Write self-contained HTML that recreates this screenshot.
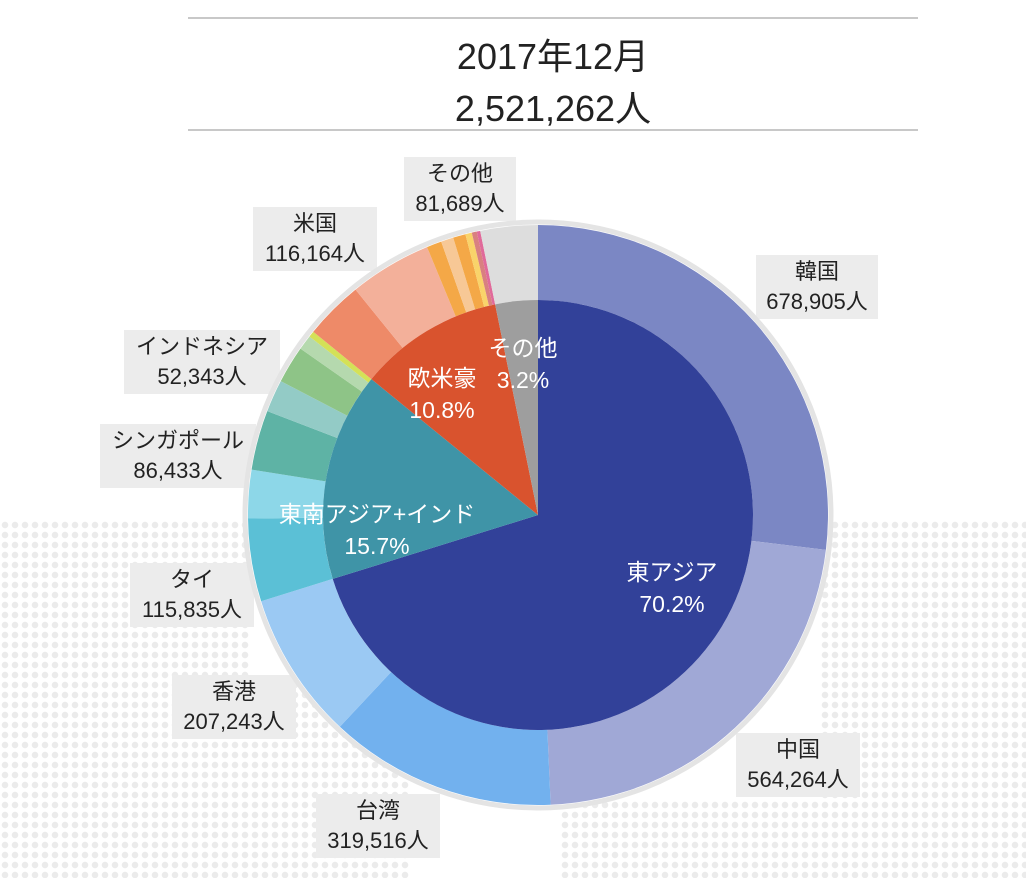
<!DOCTYPE html>
<html><head><meta charset="utf-8"><style>
body{margin:0;width:1026px;height:878px;background:#fff;position:relative;overflow:hidden;font-family:"Liberation Sans","Noto Sans CJK JP",sans-serif;}
.map{position:absolute;background-image:radial-gradient(circle,#e2e2e2 3px,transparent 3.5px);background-size:10px 10px;}
.hr{position:absolute;left:188px;width:730px;height:2px;background:#c8c8c8;}
.t{position:absolute;left:188px;width:730px;text-align:center;font-size:36px;color:#222;}
.lb{position:absolute;background:#ececec;color:#222;font-size:22px;line-height:30px;text-align:center;padding:2px 4px;}
.in{position:absolute;color:#fff;font-size:23px;line-height:32px;text-align:center;}
</style></head><body>
<div class="map" style="left:0;top:520px;width:250px;height:358px;opacity:.7"></div>
<div class="map" style="left:250px;top:680px;width:160px;height:198px;opacity:.7"></div>
<div class="map" style="left:820px;top:520px;width:206px;height:358px;opacity:.7"></div>
<div class="map" style="left:560px;top:800px;width:260px;height:78px;opacity:.7"></div>
<div class="hr" style="top:17px"></div>
<div class="hr" style="top:129px"></div>
<div class="t" style="top:28px">2017年12月</div>
<div class="t" style="top:80px">2,521,262人</div>
<div class="lb" style="left:404px;top:157px;width:104px">その他<br>81,689人</div>
<div class="lb" style="left:253px;top:207px;width:116px">米国<br>116,164人</div>
<div class="lb" style="left:756px;top:255px;width:114px">韓国<br>678,905人</div>
<div class="lb" style="left:124px;top:330px;width:148px">インドネシア<br>52,343人</div>
<div class="lb" style="left:100px;top:424px;width:148px">シンガポール<br>86,433人</div>
<div class="lb" style="left:130px;top:563px;width:116px">タイ<br>115,835人</div>
<div class="lb" style="left:172px;top:675px;width:116px">香港<br>207,243人</div>
<div class="lb" style="left:736px;top:733px;width:116px">中国<br>564,264人</div>
<div class="lb" style="left:316px;top:794px;width:116px">台湾<br>319,516人</div>
<svg id="s" width="1026" height="878" style="position:absolute;left:0;top:0"></svg>
<div class="in" style="left:592px;top:556px;width:160px">東アジア<br>70.2%</div>
<div class="in" style="left:262px;top:498px;width:230px">東南アジア+インド<br>15.7%</div>
<div class="in" style="left:392px;top:362px;width:100px">欧米豪<br>10.8%</div>
<div class="in" style="left:478px;top:332px;width:90px">その他<br>3.2%</div>
<script>
var cx=538,cy=515,R=290,r=215,s=document.getElementById('s'),h='';
function p(a,b,rr,r0,c){function pt(d,q){var t=(d-90)*Math.PI/180;return [cx+q*Math.cos(t),cy+q*Math.sin(t)];}
var l=(b-a)>180?1:0,A=pt(a,rr),B=pt(b,rr);
if(r0==0)h+='<path d="M'+cx+' '+cy+'L'+A+'A'+rr+' '+rr+' 0 '+l+' 1 '+B+'Z" fill="'+c+'"/>';
else{var C=pt(b,r0),D=pt(a,r0);h+='<path d="M'+A+'A'+rr+' '+rr+' 0 '+l+' 1 '+B+'L'+C+'A'+r0+' '+r0+' 0 '+l+' 0 '+D+'Z" fill="'+c+'"/>';}}
h+='<circle cx="'+cx+'" cy="'+cy+'" r="'+(R+3)+'" fill="#fff" stroke="#e4e4e4" stroke-width="5"/>';
var o=[[0,96.9,'#7b87c4'],[96.9,177.5,'#a0a8d6'],[177.5,223.1,'#72b1ee'],[223.1,252.7,'#9bc9f3'],[252.7,269.3,'#5bc0d6'],[269.3,279,'#8dd7e8'],[279,291,'#5eb3a5'],[291,297.5,'#93cbc6'],[297.5,305,'#8ec487'],[305,308,'#b5d9ae'],[308,309.2,'#d4e157'],[309.2,321,'#ee8a68'],[321,337.5,'#f3b09a'],[337.5,340.5,'#f4a847'],[340.5,343,'#f7c896'],[343,345.5,'#f4a847'],[345.5,346.8,'#f9d36a'],[346.8,347.8,'#d98080'],[347.8,348.5,'#e06a9a'],[348.5,360,'#dddddd']];
o.forEach(function(x){p(x[0],x[1],R,r,x[2]);});
[[0,252.7,'#324199'],[252.7,309.2,'#3f94a7'],[309.2,348.5,'#d9532e'],[348.5,360,'#9e9e9e']].forEach(function(x){p(x[0],x[1],r,0,x[2]);});
s.innerHTML=h;
</script>
</body></html>
